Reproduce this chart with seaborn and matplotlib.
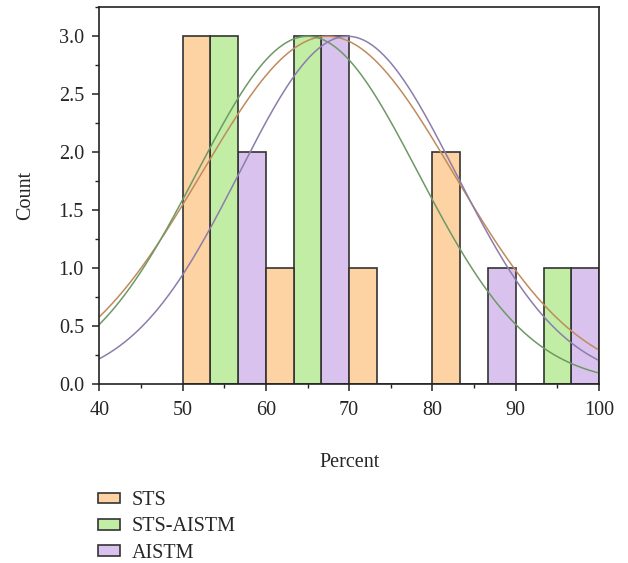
import numpy as np
import pandas as pd
import matplotlib
matplotlib.use("Agg")
import matplotlib.pyplot as plt
import seaborn as sns
from matplotlib.patches import Patch
from matplotlib.ticker import MultipleLocator

# ---- data ----
series = ["STS", "STS-AISTM", "AISTM"]
bin_edges = [50, 60, 70, 80, 90, 100]
bin_centers = [55, 65, 75, 85, 95]
counts_sts = [3, 1, 1, 2, 0]
counts_sts_aistm = [3, 3, 0, 0, 1]
counts_aistm = [2, 3, 0, 1, 1]
fit_means = [67.4, 65.0, 69.8]
fit_sds = [15.1, 13.3, 13.0]
fit_peak = 3.0

bar_colors = ["#FDD3A3", "#C1EEA4", "#D9C3EE"]
line_colors = ["#C08B5C", "#6E9866", "#8C7DAA"]

rows = []
for s, c in zip(series, [counts_sts, counts_sts_aistm, counts_aistm]):
    for x, n in zip(bin_centers, c):
        rows.append({"Percent": x, "Count": n, "Series": s})
df = pd.DataFrame(rows)

sns.set_style("ticks")
plt.rcParams["font.family"] = ["Liberation Serif", "DejaVu Serif"]

fig = plt.figure(figsize=(6.28, 5.63), dpi=100)
ax = fig.add_axes([0.158, 0.318, 0.796, 0.669])

sns.histplot(data=df, x="Percent", weights="Count", hue="Series",
             hue_order=series, palette=bar_colors, bins=bin_edges,
             multiple="dodge", shrink=1, alpha=1, edgecolor="#333333",
             linewidth=1.2, legend=False, ax=ax)

xs = np.linspace(40, 100, 400)
for m, s, col in zip(fit_means, fit_sds, line_colors):
    ax.plot(xs, fit_peak * np.exp(-0.5 * ((xs - m) / s) ** 2), color=col, lw=1.1)

ax.set_xlim(40, 100)
ax.set_ylim(0, 3.25)
ax.xaxis.set_major_locator(MultipleLocator(10))
ax.xaxis.set_minor_locator(MultipleLocator(5))
ax.yaxis.set_major_locator(MultipleLocator(0.5))
ax.yaxis.set_minor_locator(MultipleLocator(0.25))
ax.yaxis.set_major_formatter(matplotlib.ticker.FormatStrFormatter("%.1f"))
ax.tick_params(which="major", length=5, width=1.1, labelsize=14.5, color="#222222")
ax.tick_params(axis="x", which="major", pad=7)
ax.tick_params(axis="y", which="major", pad=6)
ax.tick_params(which="minor", length=3, width=1.0, color="#222222")
for sp in ax.spines.values():
    sp.set_linewidth(1.2)
    sp.set_color("#222222")
ax.set_xlabel("Percent", fontsize=14.5, labelpad=24)
ax.set_ylabel("Count", fontsize=14.5, labelpad=17)

handles = [Patch(facecolor=c, edgecolor="#333333", linewidth=1.2) for c in bar_colors]
fig.legend(handles, series, loc="upper left", bbox_to_anchor=(0.143, 0.142),
           frameon=False, fontsize=14.5, handlelength=1.1, handleheight=0.45,
           labelspacing=0.36, borderaxespad=0, handletextpad=0.6,
           bbox_transform=fig.transFigure)

fig.savefig("out.png", dpi=100)
